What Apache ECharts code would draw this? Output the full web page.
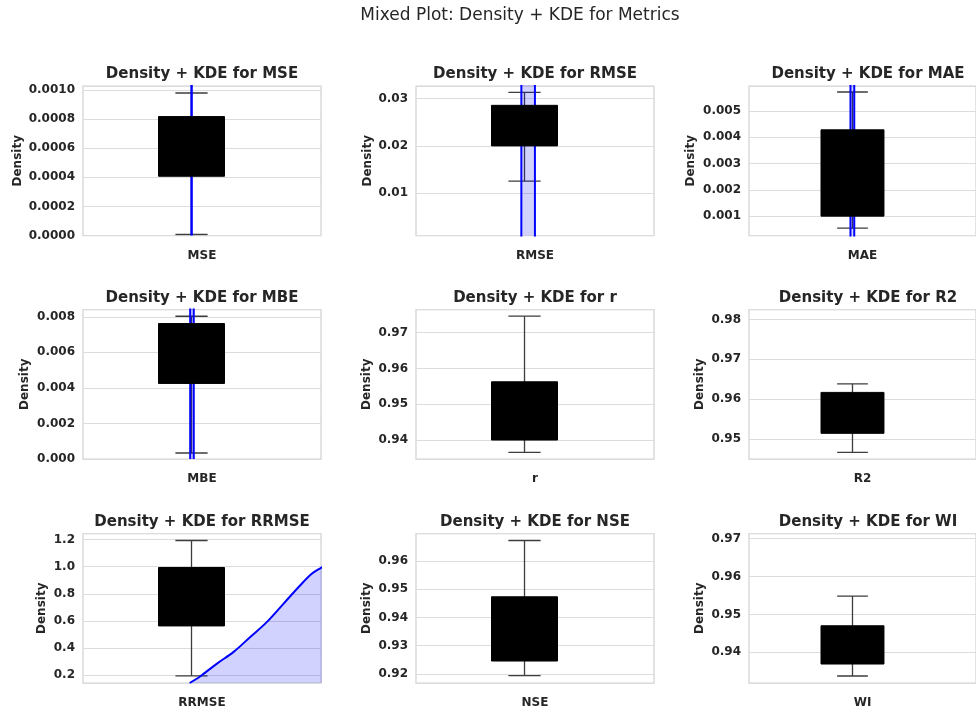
<!DOCTYPE html>
<html>
<head>
<meta charset="utf-8">
<script src="https://cdn.jsdelivr.net/npm/echarts@6/dist/echarts.min.js"></script>
<style>
  html, body { margin: 0; padding: 0; background: #fff; }
  #chart { width: 976px; height: 713px; }
</style>
</head>
<body>
<div id="chart"></div>
<script>
const metrics = ["MSE", "RMSE", "MAE", "MBE", "r", "R2", "RRMSE", "NSE", "WI"];

// box stats per metric: [lower whisker, Q1, median, Q3, upper whisker]
const boxMSE = [0.0000069, 0.000407, 0.00061, 0.000817, 0.000979];
const boxRMSE = [0.01254, 0.02, 0.0245, 0.02858, 0.03133];
const boxMAE = [0.000543, 0.001, 0.0026, 0.004276, 0.005712];
const boxMBE = [0.000337, 0.00425, 0.006, 0.00762, 0.00803];
const boxR = [0.93656, 0.94, 0.948, 0.95629, 0.97464];
const boxR2 = [0.94667, 0.95143, 0.9566, 0.9617, 0.96386];
const boxRRMSE = [0.1949, 0.5633, 0.78, 0.9937, 1.1926];
const boxNSE = [0.9194, 0.92459, 0.936, 0.94729, 0.96719];
const boxWI = [0.93376, 0.93692, 0.942, 0.947, 0.95482];

// visible density range of each panel
const yMin = [0, 0.00104, 0.000265, 0, 0.9347, 0.94499, 0.143, 0.91682, 0.93192];
const yMax = [0.001027, 0.03267, 0.00594, 0.00841, 0.9765, 0.9825, 1.244, 0.96966, 0.97132];
const tickStep = [0.0002, 0.01, 0.001, 0.002, 0.01, 0.01, 0.2, 0.01, 0.01];
const tickDecimals = [4, 2, 3, 3, 2, 2, 1, 2, 2];

// KDE curves [x, density]; r, R2, NSE and WI curves fall outside the view
const kdeMSE = [[-0.0012, 0], [-0.0008, 40], [0.0005, 900], [0.0018, 40], [0.0022, 0]];
const kdeRMSE = [[-0.024, 0], [-0.022, 0.6], [0.0, 14], [0.022, 40], [0.05, 14], [0.077, 0.6], [0.079, 0]];
const kdeMAE = [[-0.016, 0], [-0.014, 2], [-0.006, 60], [0.003, 140], [0.01, 60], [0.012, 2], [0.014, 0]];
const kdeMBE = [[-0.010, 0], [-0.008, 3], [0.0, 90], [0.004, 120], [0.009, 90], [0.015, 3], [0.017, 0]];
const kdeRRMSE = [[-0.014, 0.143], [0.067, 0.193], [0.193, 0.286], [0.319, 0.372], [0.445, 0.482],
  [0.572, 0.593], [0.698, 0.728], [0.824, 0.863], [0.913, 0.949], [0.981, 0.991], [1.05, 1.03]];

const boxes = [boxMSE, boxRMSE, boxMAE, boxMBE, boxR, boxR2, boxRRMSE, boxNSE, boxWI];
const kdes = [kdeMSE, kdeRMSE, kdeMAE, kdeMBE, null, null, kdeRRMSE, null, null];

// layout
const colLeft = [83, 416, 749];
const rowTop = [86, 309.5, 533.5];
const plotW = 238;
const plotH = 149.5;
const nameGaps = [59, 42, 52, 52, 43, 43, 35, 43, 43];
const X_MIN = -0.822;
const X_MAX = 0.981;
const BOX_X = 0;
const BOX_HALF = 0.25;
const CAP_HALF = 0.122;

const FONT = "DejaVu Sans";
const TEXT = "#262626";

const chart = echarts.init(document.getElementById("chart"));

function onStep(v, step) {
  const k = v / step;
  return Math.abs(k - Math.round(k)) < 1e-6;
}

function whiskerItem(params, api) {
  const lo = api.value(0), q1 = api.value(1), q3 = api.value(3), hi = api.value(4);
  const style = { stroke: "#3d3d3d", lineWidth: 1.3 };
  const seg = (x1, y1, x2, y2) => {
    const a = api.coord([x1, y1]);
    const b = api.coord([x2, y2]);
    return { type: "line", shape: { x1: a[0], y1: a[1], x2: b[0], y2: b[1] }, style };
  };
  return {
    type: "group",
    children: [
      seg(BOX_X, lo, BOX_X, q1),
      seg(BOX_X, q3, BOX_X, hi),
      seg(BOX_X - CAP_HALF, lo, BOX_X + CAP_HALF, lo),
      seg(BOX_X - CAP_HALF, hi, BOX_X + CAP_HALF, hi),
    ],
  };
}

function boxItem(params, api) {
  const q1 = api.value(1), med = api.value(2), q3 = api.value(3);
  const tl = api.coord([BOX_X - BOX_HALF, q3]);
  const br = api.coord([BOX_X + BOX_HALF, q1]);
  const m1 = api.coord([BOX_X - BOX_HALF, med]);
  const m2 = api.coord([BOX_X + BOX_HALF, med]);
  return {
    type: "group",
    children: [
      {
        type: "rect",
        shape: { x: tl[0], y: tl[1], width: br[0] - tl[0], height: br[1] - tl[1] },
        style: { fill: "#000000", stroke: "#000000", lineWidth: 1 },
      },
      {
        type: "line",
        shape: { x1: m1[0], y1: m1[1], x2: m2[0], y2: m2[1] },
        style: { stroke: "#000000", lineWidth: 1.3 },
      },
    ],
  };
}

const grid = [];
const xAxis = [];
const yAxis = [];
const series = [];
const title = [{
  text: "Mixed Plot: Density + KDE for Metrics",
  left: 520,
  top: 7,
  padding: 0,
  textAlign: "center",
  textStyle: { fontFamily: FONT, fontSize: 17, fontWeight: "normal", color: TEXT },
}];

metrics.forEach((name, i) => {
  const left = colLeft[i % 3];
  const top = rowTop[Math.floor(i / 3)];
  grid.push({
    left, top, width: plotW, height: plotH,
    show: true, borderColor: "#d2d2d2", borderWidth: 1.25, backgroundColor: "#ffffff",
  });
  title.push({
    text: "Density + KDE for " + name,
    left: left + plotW / 2,
    top: top - 19,
    padding: 0,
    textAlign: "center",
    textStyle: { fontFamily: FONT, fontSize: 15, fontWeight: "bold", color: TEXT },
  });
  xAxis.push({
    type: "value", gridIndex: i, min: X_MIN, max: X_MAX,
    axisLine: { show: false }, axisTick: { show: false },
    axisLabel: { show: false }, splitLine: { show: false },
    name, nameLocation: "middle", nameGap: 14,
    nameTextStyle: { fontFamily: FONT, fontSize: 12, fontWeight: "bold", color: TEXT },
  });
  const step = tickStep[i];
  yAxis.push({
    type: "value", gridIndex: i, min: yMin[i], max: yMax[i],
    minInterval: step, maxInterval: step, splitNumber: 5,
    axisLine: { show: false }, axisTick: { show: false },
    splitLine: { lineStyle: { color: "#dcdcdc", width: 1 } },
    axisLabel: {
      margin: 8, fontFamily: FONT, fontSize: 12, fontWeight: "bold", color: TEXT,
      formatter: (v) => (onStep(v, step) ? v.toFixed(tickDecimals[i]) : ""),
    },
    name: "Density", nameLocation: "middle", nameRotate: 90, nameGap: nameGaps[i],
    nameTextStyle: { fontFamily: FONT, fontSize: 12, fontWeight: "bold", color: TEXT },
  });

  series.push({
    type: "custom", xAxisIndex: i, yAxisIndex: i, z: 2, silent: true, clip: true,
    renderItem: whiskerItem, data: [boxes[i]],
  });
  if (kdes[i]) {
    series.push({
      type: "line", xAxisIndex: i, yAxisIndex: i, z: 3, silent: true, clip: true,
      data: kdes[i], symbol: "none",
      smooth: name === "RRMSE" ? 0.35 : false,
      lineStyle: { color: "#0000ff", width: 2 },
      areaStyle: { color: "rgba(0,0,255,0.25)", origin: "start" },
    });
  }
  series.push({
    type: "custom", xAxisIndex: i, yAxisIndex: i, z: 4, silent: true, clip: true,
    renderItem: boxItem, data: [boxes[i]],
  });
});

chart.setOption({
  animation: false,
  backgroundColor: "#ffffff",
  title, grid, xAxis, yAxis, series,
});
</script>
</body>
</html>
